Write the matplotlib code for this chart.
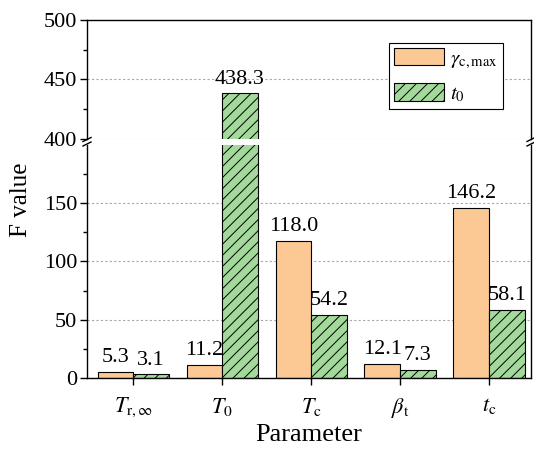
import numpy as np
import matplotlib
matplotlib.use('Agg')
import matplotlib.pyplot as plt
from matplotlib.lines import Line2D

plt.rcParams['font.family'] = ['Liberation Serif', 'DejaVu Serif']
plt.rcParams['mathtext.fontset'] = 'stix'
plt.rcParams['hatch.linewidth'] = 0.7

params = [r'$T_{\mathrm{r},\infty}$', r'$T_0$', r'$T_\mathrm{c}$', r'$\beta_\mathrm{t}$', r'$t_\mathrm{c}$']
gamma_max = [5.3, 11.2, 118.0, 12.1, 146.2]
t_zero = [3.1, 438.3, 54.2, 7.3, 58.1]
series_names = [r'$\gamma_{\mathrm{c,max}}$', r'$t_0$']

orange = '#FCC893'
green = '#A3D99B'

fig = plt.figure(figsize=(5.34, 4.49), dpi=100)
ax_top = fig.add_axes([0.163, 0.6904, 0.831, 0.2651])
ax_bot = fig.add_axes([0.163, 0.1581, 0.831, 0.519])

x = np.arange(len(params))
w = 0.4

for ax in (ax_top, ax_bot):
    ax.set_axisbelow(True)
    ax.bar(x - w / 2, gamma_max, w, color=orange, edgecolor='black', linewidth=0.8,
           label=series_names[0])
    ax.bar(x + w / 2, t_zero, w, color=green, edgecolor='black', linewidth=0.8,
           hatch='///', label=series_names[1])
    ax.set_xlim(-0.52, 4.47)
    ax.grid(axis='y', linestyle=(0, (2, 2)), color='#a8a8a8', linewidth=0.8)
    ax.tick_params(axis='y', which='major', direction='out', length=5, width=1, labelsize=16, pad=2)
    ax.tick_params(axis='y', which='minor', direction='out', length=3, width=1)
    for s in ax.spines.values():
        s.set_linewidth(1.0)

ax_bot.set_ylim(0, 200)
ax_bot.set_yticks([0, 50, 100, 150])
ax_bot.set_yticks([25, 75, 125, 175], minor=True)
ax_top.set_ylim(400, 500)
ax_top.set_yticks([400, 450, 500])
ax_top.set_yticks([425, 475], minor=True)

ax_bot.spines['top'].set_visible(False)
ax_top.spines['bottom'].set_visible(False)
ax_top.tick_params(axis='x', which='both', bottom=False, labelbottom=False)
ax_bot.set_xticks(x)
ax_bot.set_xticklabels(params)
ax_bot.tick_params(axis='x', direction='out', length=5, width=1, labelsize=16, pad=8)
ax_bot.set_xlabel('Parameter', fontsize=19, labelpad=3)

# value labels
for xs, vals in ((x - w / 2, gamma_max), (x + w / 2, t_zero)):
    for xi, v in zip(xs, vals):
        ax = ax_top if v > 200 else ax_bot
        ax.annotate(f'{v:.1f}', (xi, v), xytext=(0, 3.5), textcoords='offset points',
                    ha='center', va='bottom', fontsize=16)

fig.text(0.04, 0.555, 'F value', rotation=90, ha='center', va='center', fontsize=18)

leg = ax_top.legend(loc='upper left', bbox_to_anchor=(0.68, 0.807), borderaxespad=0,
                    fontsize=15, fancybox=False, edgecolor='black', framealpha=1,
                    handlelength=2.4, handleheight=0.9, handletextpad=0.3,
                    borderpad=0.25, labelspacing=0.6)
leg.get_frame().set_linewidth(0.8)

# break marks on the left and right spines
W, H = 534.0, 449.0
for px in (87, 531):
    for py in (139.5, 144.0):
        fig.add_artist(Line2D([(px - 4) / W, (px + 4) / W], [1 - (py + 2) / H, 1 - (py - 2) / H],
                              transform=fig.transFigure, color='black', linewidth=1.0))

fig.savefig('out.png', dpi=100)
